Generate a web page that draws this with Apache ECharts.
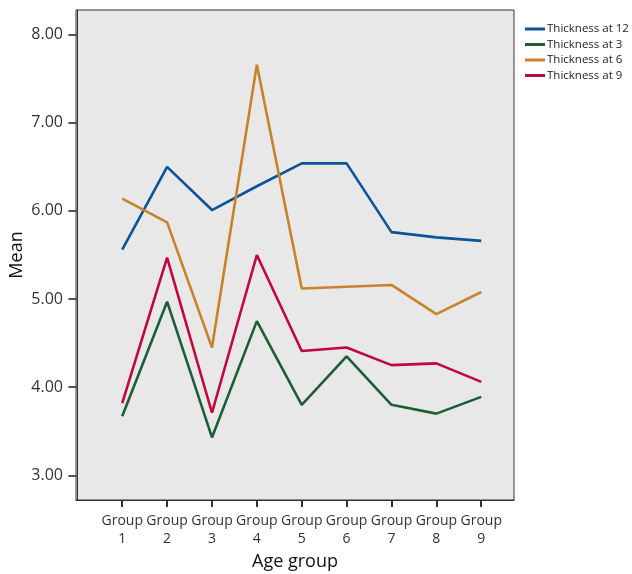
<!DOCTYPE html>
<html>
<head>
<meta charset="utf-8">
<script src="https://cdn.jsdelivr.net/npm/echarts@6/dist/echarts.min.js"></script>
<style>html,body{margin:0;padding:0;background:#fff;}#c{width:632px;height:574px;}</style>
</head>
<body>
<div id="c"></div>
<script>
const categories = ['Group\n1','Group\n2','Group\n3','Group\n4','Group\n5','Group\n6','Group\n7','Group\n8','Group\n9'];
const seriesNames = ['Thickness at 12','Thickness at 3','Thickness at 6','Thickness at 9'];
const thick12 = [5.56, 6.50, 6.01, 6.28, 6.54, 6.54, 5.76, 5.70, 5.66];
const thick3  = [3.67, 4.97, 3.43, 4.75, 3.80, 4.35, 3.80, 3.70, 3.89];
const thick6  = [6.14, 5.87, 4.45, 7.66, 5.12, 5.14, 5.16, 4.83, 5.08];
const thick9  = [3.82, 5.47, 3.71, 5.50, 4.41, 4.45, 4.25, 4.27, 4.06];
const yTicks = [3, 4, 5, 6, 7, 8];
const colors = ['#0a5499', '#1e5e36', '#c8822a', '#c0073f'];

const font = "'Open Sans', 'Noto Sans', sans-serif";
const allData = [thick12, thick3, thick6, thick9];
const xPositions = categories.map((c, i) => i + 1);

const chart = echarts.init(document.getElementById('c'), null, {renderer: 'canvas'});
chart.setOption({
  animation: false,
  backgroundColor: '#ffffff',
  color: colors,
  grid: {
    left: 76, top: 10, right: 118, bottom: 74,
    outerBoundsMode: 'none', containLabel: false,
    show: true, backgroundColor: '#e8e8e8', borderColor: '#333', borderWidth: 1
  },
  legend: {
    orient: 'vertical', left: 520, top: 18,
    itemWidth: 20, itemHeight: 3, itemGap: 3.5,
    icon: 'rect',
    textStyle: {fontFamily: font, fontSize: 11.5, color: '#222', padding: [0,0,0,-3]},
    data: seriesNames
  },
  xAxis: {
    type: 'value', min: -0.03, max: 9.73,
    name: 'Age group', nameLocation: 'middle', nameGap: 53,
    nameTextStyle: {fontFamily: font, fontSize: 18, color: '#111'},
    splitLine: {show: false},
    axisLine: {show: true, onZero: false, lineStyle: {color: '#333', width: 1}},
    axisTick: {show: true, length: 7, customValues: xPositions, lineStyle: {color: '#333', width: 2}},
    axisLabel: {
      customValues: xPositions, margin: 12,
      fontFamily: font, fontSize: 14, color: '#333', lineHeight: 18,
      formatter: v => categories[Math.round(v) - 1] || ''
    }
  },
  yAxis: {
    type: 'value', min: 2.72, max: 8.28,
    name: 'Mean', nameLocation: 'middle', nameGap: 50, nameMoveOverlap: false,
    nameTextStyle: {fontFamily: font, fontSize: 18, color: '#111'},
    splitLine: {show: false},
    axisLine: {show: true, lineStyle: {color: '#333', width: 1}},
    axisTick: {show: true, length: 9, customValues: yTicks, lineStyle: {color: '#555', width: 2}},
    axisLabel: {
      customValues: yTicks, margin: 13,
      fontFamily: font, fontSize: 16, color: '#333',
      formatter: v => v.toFixed(2)
    }
  },
  series: seriesNames.map((name, k) => ({
    name: name, type: 'line', showSymbol: false, symbol: 'none',
    lineStyle: {width: 2.6, color: colors[k]},
    itemStyle: {color: colors[k]},
    data: allData[k].map((v, i) => [xPositions[i], v])
  }))
});
</script>
</body>
</html>
